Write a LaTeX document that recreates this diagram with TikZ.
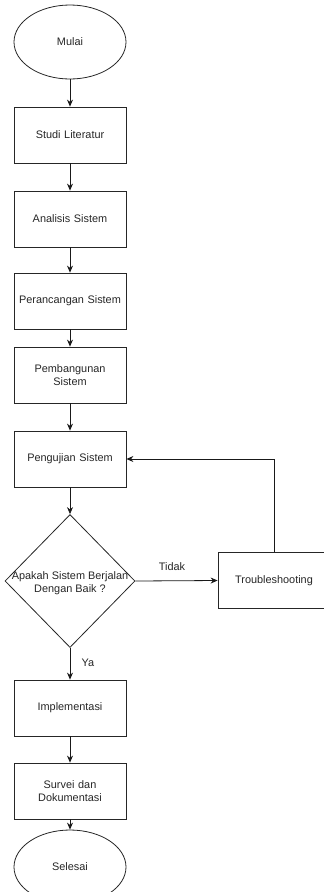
\documentclass[tikz,border=0pt]{standalone}
\usepackage{fontspec}
\setmainfont{Liberation Sans}
\usetikzlibrary{shapes.geometric,arrows.meta}
\begin{document}
\begin{tikzpicture}[x=1pt,y=-1pt,
  font=\fontsize{10.9}{13}\selectfont, text=black!85,
  proses/.style={draw=black!85, line width=0.8pt, minimum width=112pt, minimum height=56pt, align=center, text width=110pt, inner sep=0pt},
  terminal/.style={draw=black!85, line width=0.8pt, ellipse, minimum width=112pt, minimum height=74pt, inner sep=0pt},
  keputusan/.style={draw=black!85, line width=0.8pt, diamond, minimum width=130pt, minimum height=133pt, inner sep=0pt},
  panah/.style={draw=black!90, line width=0.8pt, -{Stealth[length=7pt,width=6pt]}}]
\useasboundingbox (0,0) rectangle (324,892);
\node[terminal] (mulai) at (70,42) {Mulai};
\node[proses] (studi) at (70,135) {Studi Literatur};
\node[proses] (analisis) at (70,219) {Analisis Sistem};
\node[proses] (rancang) at (70,301) {Perancangan Sistem};
\node[proses] (bangun) at (70,375) {Pembangunan\\Sistem};
\node[proses] (uji) at (70,459) {Pengujian Sistem};
\node[keputusan, label={[align=center, yshift=-2pt]center:Apakah Sistem Berjalan\\Dengan Baik ?}] (cek) at (70,581) {};
\node[proses] (trouble) at (274,580.5) {Troubleshooting};
\node[proses] (implementasi) at (70,708) {Implementasi};
\node[proses] (survei) at (70,791) {Survei dan\\Dokumentasi};
\node[terminal] (selesai) at (70,867) {Selesai};
\node (tidak) at (172,567) {Tidak};
\node (ya) at (88,663) {Ya};
\draw[panah] (mulai) -- (studi);
\draw[panah] (studi) -- (analisis);
\draw[panah] (analisis) -- (rancang);
\draw[panah] (rancang) -- (bangun);
\draw[panah] (bangun) -- (uji);
\draw[panah] (uji) -- (cek);
\draw[panah] (cek.east) -- (trouble.west);
\draw[panah] (trouble.north) |- (uji.east);
\draw[panah] (cek.south) -- (implementasi);
\draw[panah] (implementasi) -- (survei);
\draw[panah] (survei) -- (selesai);
\end{tikzpicture}
\end{document}
